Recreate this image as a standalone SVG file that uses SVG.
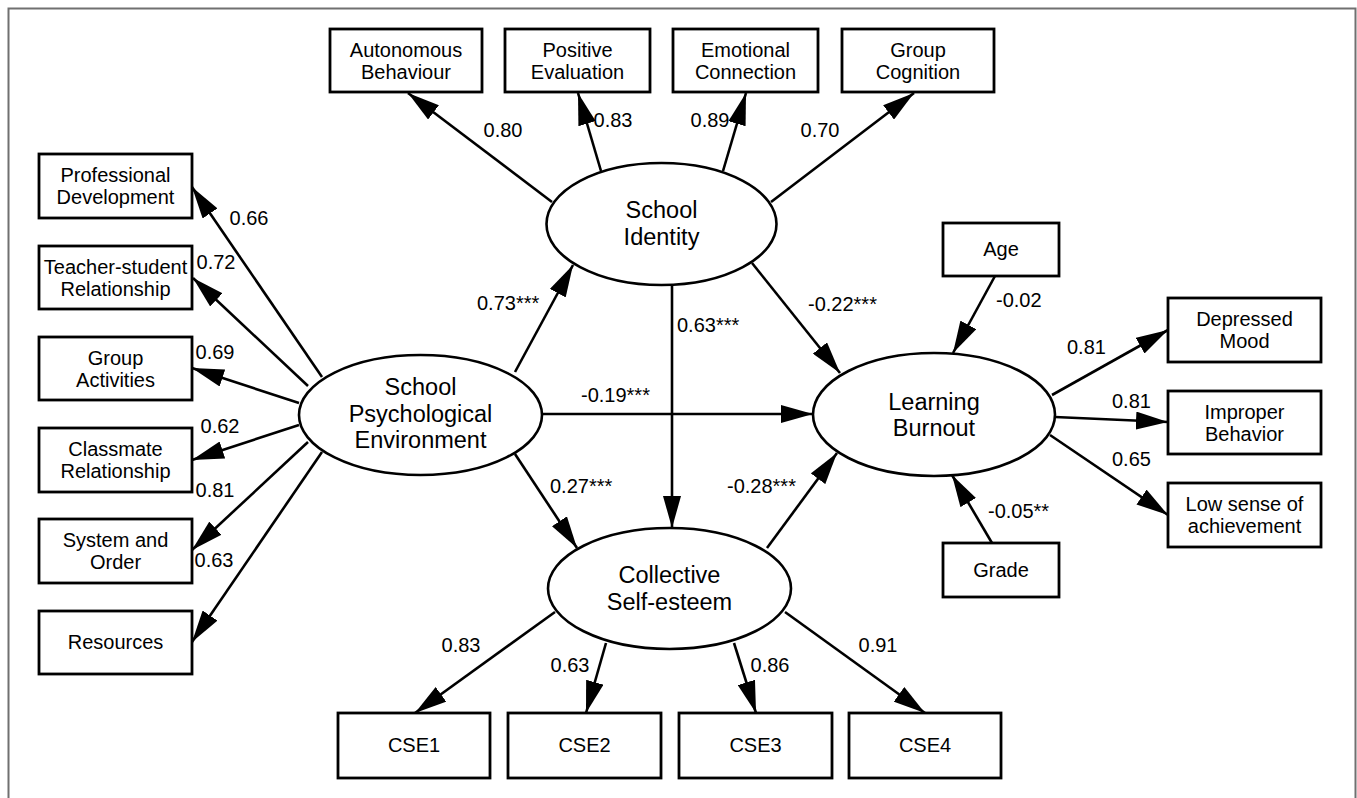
<svg xmlns="http://www.w3.org/2000/svg" width="1357" height="798" viewBox="0 0 1357 798">
<defs>
<style>
.box{fill:#fff;stroke:#000;stroke-width:2.8}
.ell{fill:#fff;stroke:#000;stroke-width:2.6}
.t{font-family:"Liberation Sans",Arial,sans-serif;font-size:20px;fill:#000;text-anchor:middle}
.e{font-family:"Liberation Sans",Arial,sans-serif;font-size:23.5px;fill:#000;text-anchor:middle}
.n{font-family:"Liberation Sans",Arial,sans-serif;font-size:20px;fill:#000}
.c{text-anchor:middle}
.conn line{stroke:#000;stroke-width:2.6;marker-end:url(#ah)}
</style>
<marker id="ah" markerUnits="userSpaceOnUse" markerWidth="32" markerHeight="18" refX="32" refY="9" orient="auto">
<path d="M0,0 L32,9 L0,18 z" fill="#000"/>
</marker>
</defs>
<rect x="0" y="0" width="1357" height="798" fill="#fff"/>
<path d="M8.5,798 V8.5 H1355.5 V798" fill="none" stroke="#707070" stroke-width="2"/>

<g id="connectors" class="conn">
<line x1="552" y1="202" x2="408" y2="93"/>
<line x1="601" y1="171" x2="578" y2="93"/>
<line x1="723" y1="171" x2="746" y2="93"/>
<line x1="771" y1="202" x2="914" y2="93"/>
<line x1="322" y1="377" x2="192" y2="187"/>
<line x1="308" y1="386" x2="193" y2="278"/>
<line x1="299" y1="403" x2="192" y2="368"/>
<line x1="299" y1="425" x2="192" y2="460"/>
<line x1="308" y1="442" x2="192" y2="550"/>
<line x1="322" y1="452" x2="192" y2="642"/>
<line x1="515" y1="372" x2="573" y2="265"/>
<line x1="542" y1="414" x2="813" y2="414"/>
<line x1="672" y1="285" x2="672" y2="528"/>
<line x1="752" y1="263" x2="840" y2="373"/>
<line x1="515" y1="454" x2="577" y2="548"/>
<line x1="767" y1="548" x2="837" y2="453"/>
<line x1="995" y1="276" x2="953" y2="353"/>
<line x1="992" y1="543" x2="952" y2="475"/>
<line x1="1052" y1="395" x2="1168" y2="330"/>
<line x1="1055" y1="417" x2="1168" y2="422"/>
<line x1="1050" y1="435" x2="1168" y2="515"/>
<line x1="555" y1="612" x2="415" y2="713"/>
<line x1="606" y1="643" x2="586" y2="713"/>
<line x1="734" y1="643" x2="756" y2="713"/>
<line x1="785" y1="612" x2="925" y2="713"/>
</g>

<g id="labels">
<text class="n c" x="503" y="137">0.80</text>
<text class="n c" x="613" y="127">0.83</text>
<text class="n c" x="710" y="127">0.89</text>
<text class="n c" x="820" y="137">0.70</text>
<text class="n c" x="249" y="225">0.66</text>
<text class="n c" x="216" y="269">0.72</text>
<text class="n c" x="215" y="359">0.69</text>
<text class="n c" x="220" y="433">0.62</text>
<text class="n c" x="215" y="497">0.81</text>
<text class="n c" x="214" y="567">0.63</text>
<text class="n" x="477" y="310">0.73***</text>
<text class="n" x="808" y="311">-0.22***</text>
<text class="n" x="677" y="332">0.63***</text>
<text class="n" x="581" y="402">-0.19***</text>
<text class="n" x="550" y="493">0.27***</text>
<text class="n" x="727" y="493">-0.28***</text>
<text class="n" x="996" y="307">-0.02</text>
<text class="n" x="1067" y="354">0.81</text>
<text class="n" x="1112" y="408">0.81</text>
<text class="n" x="1112" y="466">0.65</text>
<text class="n" x="988" y="518">-0.05**</text>
<text class="n c" x="461" y="652">0.83</text>
<text class="n c" x="570" y="672">0.63</text>
<text class="n c" x="770" y="672">0.86</text>
<text class="n c" x="878" y="652">0.91</text>
</g>

<g id="autonomous-behaviour"><rect class="box" x="330" y="29" width="152" height="63"/><text class="t" x="406" y="56.5">Autonomous</text><text class="t" x="406" y="78.5">Behaviour</text></g>
<g id="positive-evaluation"><rect class="box" x="505" y="29" width="145" height="63"/><text class="t" x="577.5" y="56.5">Positive</text><text class="t" x="577.5" y="78.5">Evaluation</text></g>
<g id="emotional-connection"><rect class="box" x="673" y="29" width="145" height="63"/><text class="t" x="745.5" y="56.5">Emotional</text><text class="t" x="745.5" y="78.5">Connection</text></g>
<g id="group-cognition"><rect class="box" x="842" y="29" width="152" height="63"/><text class="t" x="918" y="56.5">Group</text><text class="t" x="918" y="78.5">Cognition</text></g>

<g id="professional-development"><rect class="box" x="39" y="154" width="153" height="64"/><text class="t" x="115.5" y="182">Professional</text><text class="t" x="115.5" y="204">Development</text></g>
<g id="teacher-student-relationship"><rect class="box" x="39" y="246" width="153" height="63"/><text class="t" x="115.5" y="273.5">Teacher-student</text><text class="t" x="115.5" y="295.5">Relationship</text></g>
<g id="group-activities"><rect class="box" x="39" y="337" width="153" height="63"/><text class="t" x="115.5" y="364.5">Group</text><text class="t" x="115.5" y="386.5">Activities</text></g>
<g id="classmate-relationship"><rect class="box" x="39" y="428" width="153" height="64"/><text class="t" x="115.5" y="456">Classmate</text><text class="t" x="115.5" y="478">Relationship</text></g>
<g id="system-and-order"><rect class="box" x="39" y="519" width="153" height="64"/><text class="t" x="115.5" y="547">System and</text><text class="t" x="115.5" y="569">Order</text></g>
<g id="resources"><rect class="box" x="39" y="611" width="153" height="63"/><text class="t" x="115.5" y="649">Resources</text></g>

<g id="school-identity"><ellipse class="ell" cx="661.5" cy="224" rx="115" ry="61"/><text class="e" x="661.5" y="218">School</text><text class="e" x="661.5" y="245">Identity</text></g>
<g id="school-psychological-environment"><ellipse class="ell" cx="420.5" cy="415" rx="121.5" ry="60"/><text class="e" x="420.5" y="395">School</text><text class="e" x="420.5" y="422">Psychological</text><text class="e" x="420.5" y="448">Environment</text></g>
<g id="learning-burnout"><ellipse class="ell" cx="934" cy="414.5" rx="121" ry="61.5"/><text class="e" x="934" y="410">Learning</text><text class="e" x="934" y="436">Burnout</text></g>
<g id="collective-self-esteem"><ellipse class="ell" cx="669.5" cy="588.5" rx="121.5" ry="60.5"/><text class="e" x="669.5" y="583">Collective</text><text class="e" x="669.5" y="610">Self-esteem</text></g>

<g id="age"><rect class="box" x="943" y="223" width="116" height="53"/><text class="t" x="1001" y="256">Age</text></g>
<g id="grade"><rect class="box" x="943" y="543" width="116" height="54"/><text class="t" x="1001" y="577">Grade</text></g>

<g id="depressed-mood"><rect class="box" x="1168" y="298" width="153" height="64"/><text class="t" x="1244.5" y="326">Depressed</text><text class="t" x="1244.5" y="348">Mood</text></g>
<g id="improper-behavior"><rect class="box" x="1168" y="391" width="153" height="63"/><text class="t" x="1244.5" y="418.5">Improper</text><text class="t" x="1244.5" y="440.5">Behavior</text></g>
<g id="low-sense-of-achievement"><rect class="box" x="1168" y="483" width="153" height="64"/><text class="t" x="1244.5" y="511">Low sense of</text><text class="t" x="1244.5" y="533">achievement</text></g>

<g id="cse1"><rect class="box" x="338" y="713" width="152" height="65"/><text class="t" x="414" y="752">CSE1</text></g>
<g id="cse2"><rect class="box" x="508" y="713" width="153" height="65"/><text class="t" x="584.5" y="752">CSE2</text></g>
<g id="cse3"><rect class="box" x="679" y="713" width="153" height="65"/><text class="t" x="755.5" y="752">CSE3</text></g>
<g id="cse4"><rect class="box" x="849" y="713" width="152" height="65"/><text class="t" x="925" y="752">CSE4</text></g>
</svg>
